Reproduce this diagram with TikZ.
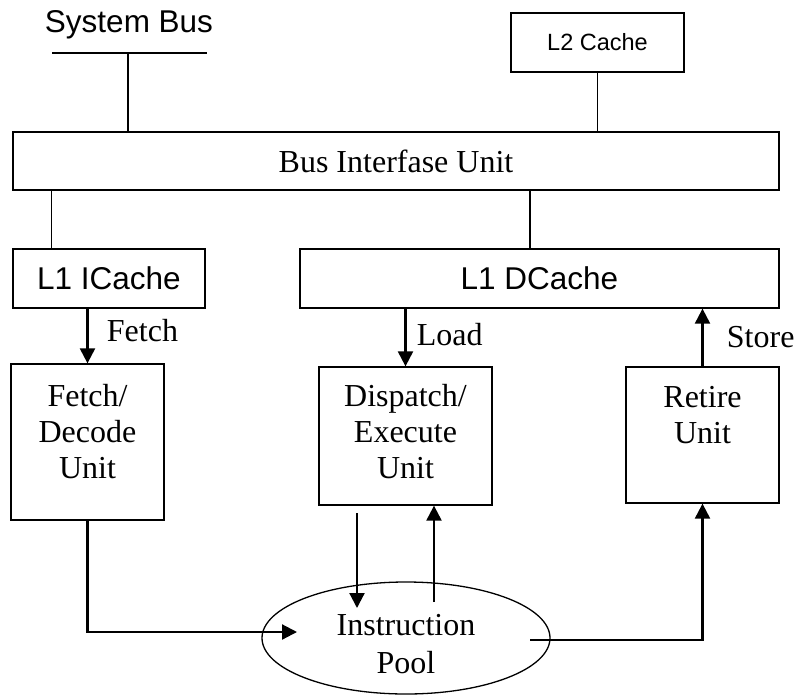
\documentclass[tikz,border=0pt]{standalone}
\usepackage{fontspec}
\setmainfont{Liberation Serif}
\newfontfamily\arialfont{Liberation Sans}
\usepackage{tikz}
\usetikzlibrary{arrows.meta,shapes.geometric}

\tikzset{
	box/.style={draw, line width=1.3pt, rectangle, inner sep=0pt, align=center},
	sanstext/.style={font=\arialfont\fontsize{31.5}{36}\selectfont},
	serftext/.style={font=\fontsize{32}{36}\selectfont},
	flow/.style={line width=2.2pt, -{Triangle[length=15pt,width=15pt]}},
	wire/.style={line width=1.5pt}
}

\begin{document}
\begin{tikzpicture}[x=1pt, y=-1pt]
	\useasboundingbox (0,0) rectangle (797,696);
	% bus and caches
	\coordinate (busL) at (52,53);
	\coordinate (busR) at (207,53);
	\coordinate (busmid) at (128,53);
	\node [sanstext] (sysbus) at (129,25) {System Bus};
	\node [box, serftext, minimum width=766pt, minimum height=58pt] (biu) at (396,161) {Bus Interfase Unit};
	\node [box, font=\arialfont\fontsize{23.5}{28}\selectfont, minimum width=173pt, minimum height=59pt] (ltwo) at (597.5,42.5) {L2 Cache};
	\node [box, sanstext, minimum width=192pt, minimum height=59pt] (icache) at (109,278.5) {L1 ICache};
	\node [box, sanstext, minimum width=479pt, minimum height=59pt] (dcache) at (539.5,278.5) {L1 DCache};
	% units
	\node [box, serftext, minimum width=153pt, minimum height=156pt] (fetchunit) at (87.5,442) {Fetch/\\Decode\\Unit\\[-14pt]\mbox{}};
	\node [box, serftext, minimum width=173pt, minimum height=138pt] (dispunit) at (405.5,436) {Dispatch/\\Execute\\Unit\\[-26pt]\mbox{}};
	\node [box, serftext, minimum width=153pt, minimum height=136pt] (retire) at (702.5,435) {Retire\\Unit\\[4pt]\mbox{}};
	\node [draw, ellipse, line width=1.3pt, serftext, align=center, inner sep=0pt, minimum width=288pt, minimum height=112pt] (pool) at (406,638) {\mbox{}\\[-2pt]Instruction\\[2pt]Pool};

	\draw [wire] (busL) -- (busR);
	\draw [wire] (busmid) -- (busmid |- biu.north);
	\draw [wire] (ltwo.south) -- (ltwo.south |- biu.north);
	\draw [wire] ([xshift=39pt]icache.north west) -- ([xshift=39pt]icache.north west |- biu.south);
	\draw [wire] ([xshift=-9.5pt]dcache.north) -- ([xshift=-9.5pt]dcache.north |- biu.south);

	\draw [flow] (icache.south -| fetchunit.north) -- (fetchunit.north) node [pos=0.4, right=15pt, serftext] (fetchlbl) {Fetch};
	\draw [flow] (dcache.south -| dispunit.north) -- (dispunit.north) node [pos=0.45, right=7pt, serftext] (loadlbl) {Load};
	\draw [flow] (retire.north) -- (retire.north |- dcache.south) node [pos=0.5, right=20pt, serftext] (storelbl) {Store};

	% instruction pool traffic
	\coordinate (poolin) at (297,632);
	\coordinate (poolout) at (530,640);
	\coordinate (dispdown) at (357,513);
	\coordinate (poolup) at (434,602);
	\draw [flow] (fetchunit.south) |- (poolin);
	\draw [flow] (dispdown) -- (dispdown |- 0,608);
	\draw [flow] (poolup) -- (poolup |- dispunit.south);
	\draw [flow] (poolout) -| (retire.south);
\end{tikzpicture}
\end{document}
